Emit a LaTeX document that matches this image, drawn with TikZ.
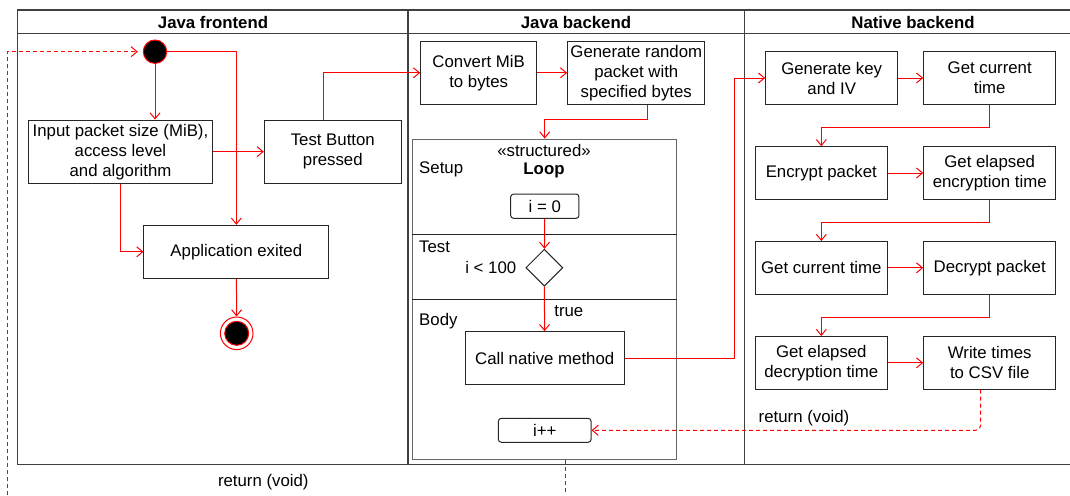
\documentclass[tikz,border=0pt]{standalone}
\usepackage{fontspec}
\setmainfont{Liberation Sans}
\usepackage{tikz}
\usetikzlibrary{positioning, arrows.meta, shapes.geometric, calc}

\begin{document}
\begin{tikzpicture}[x=1pt,y=-1pt,line width=1pt,
  every node/.style={font=\fontsize{16.8}{20}\selectfont},
  act/.style={draw=black!85, inner sep=0pt, align=center},
  nat/.style={act, minimum width=132pt, minimum height=52.5pt},
  flow/.style={draw=red, -{Straight Barb[length=6pt,width=10pt]}},
  ret/.style={flow, dash pattern=on 4pt off 3pt}]
\useasboundingbox (0,0) rectangle (1070,495);

\draw[black!75,line width=1.2pt] (17.5,10) rectangle (1082,464.5);
\draw[black!75,line width=1.2pt] (17.5,33.7) -- (1082,33.7);
\draw[black!75,line width=1.2pt] (408,10) -- (408,464.5);
\draw[black!75,line width=1.2pt] (744.5,10) -- (744.5,464.5);
\node[font=\fontsize{16.8}{20}\selectfont\bfseries] (h1) at (213,22) {Java frontend};
\node[font=\fontsize{16.8}{20}\selectfont\bfseries] (h2) at (576,22) {Java backend};
\node[font=\fontsize{16.8}{20}\selectfont\bfseries] (h3) at (913,22) {Native backend};

\node[circle, draw=red, fill=black, minimum size=23.4pt, inner sep=0pt] (start) at (155,51.7) {};
\node[act, minimum width=184.4pt, minimum height=63.3pt] (inp) at (120.5,151.7) {Input packet size (MiB),\\access level\\and algorithm};
\node[act, minimum width=137pt, minimum height=63.3pt] (btn) at (332.8,151.7) {Test Button\\pressed};
\node[act, minimum width=184.7pt, minimum height=53pt] (exit) at (236.3,251.8) {Application exited};
\node[circle, draw=red, minimum size=32.6pt, inner sep=0pt] (end) at (236.7,333.3) {};
\node[circle, draw=red, fill=black, minimum size=24pt, inner sep=0pt] (endin) at (end) {};

\node[act, minimum width=116pt, minimum height=63pt] (conv) at (478.7,72.8) {Convert MiB\\to bytes};
\node[act, minimum width=137.3pt, minimum height=63pt] (gen) at (636.3,72.8) {Generate random\\packet with\\specified bytes};
\node[draw=black!60, line width=1.5pt, minimum width=264pt, minimum height=320pt] (sloop) at (544.7,299.3) {};
\draw[black!85] (sloop.west |- 0,234.5) -- (sloop.east |- 0,234.5);
\draw[black!85] (sloop.west |- 0,299.3) -- (sloop.east |- 0,299.3);
\node (stereo) at (544,150) {«structured»};
\node[font=\fontsize{16.8}{20}\selectfont\bfseries] (ltitle) at (544,170) {Loop};
\node[anchor=west, inner sep=0pt] (setup) at (418.7,169) {Setup};
\node[anchor=west, inner sep=0pt] (test) at (418.7,246.7) {Test};
\node[anchor=west, inner sep=0pt] (body) at (418.7,321) {Body};
\node[act, rounded corners=3pt, minimum width=68.3pt, minimum height=24.3pt] (init) at (544.8,206.2) {i = 0};
\node[act, diamond, minimum width=37pt, minimum height=37pt] (dec) at (544.3,267.7) {};
\node[anchor=east, inner sep=0pt] (cond) at (516.7,267.7) {i < 100};
\node[act, minimum width=158.7pt, minimum height=53pt] (call) at (544.7,358.2) {Call native method};
\node[act, rounded corners=3pt, minimum width=92.7pt, minimum height=24pt] (inc) at (544.7,430.3) {i++};

\node[nat] (key) at (831.7,78) {Generate key\\and IV};
\node[nat] (t1) at (989.7,78) {Get current\\time};
\node[nat] (enc) at (821.3,173) {Encrypt packet};
\node[nat] (el1) at (989.7,173) {Get elapsed\\encryption time};
\node[nat] (t2) at (821.3,267.8) {Get current time};
\node[nat] (decr) at (989.7,267.8) {Decrypt packet};
\node[nat] (el2) at (821.3,362.8) {Get elapsed\\decryption time};
\node[nat] (csv) at (989.7,362.8) {Write times\\to CSV file};

\coordinate (back) at (7,495);
\coordinate (out) at (565.7,495);

\draw[flow] (start.south) -- (start.south |- inp.north);
\draw[flow] (start.east) -| (exit.north);
\draw[flow] (inp.east) -- (btn.west);
\draw[flow] (inp.south) |- (exit.west);
\draw[flow] (exit) -- (end);
\draw[flow] ([xshift=-9.5pt]btn.north) |- (conv.west);
\draw[flow] (conv) -- (gen);
\draw[flow] ([xshift=10.7pt]gen.south) -- ++(0,14.7) -| (sloop.north);
\draw[flow] (init) -- (dec);
\draw[flow] (dec) -- node[right=6pt, pos=0.55] (tlab) {true} (call);
\draw[flow] (call.east) -- ++(110.3,0) |- (key.west);
\draw[flow] (key) -- (t1);
\draw[flow] (t1.south) -- ++(0,23) -| (enc.north);
\draw[flow] (enc) -- (el1);
\draw[flow] (el1.south) -- ++(0,22.7) -| (t2.north);
\draw[flow] (t2) -- (decr);
\draw[flow] (decr.south) -- ++(0,23.3) -| (el2.north);
\draw[flow] (el2) -- (csv);
\draw[ret, rounded corners=5pt] ([xshift=-9pt]csv.south) |- (inc.east);
\node (r1) at (804,417.7) {return (void)};
\draw[draw=red, dash pattern=on 4pt off 3pt] ([xshift=21pt]sloop.south) -- (out);
\draw[ret, shorten >=5pt] (back) |- (start.west);
\node (r2) at (263.3,481.7) {return (void)};
\end{tikzpicture}
\end{document}
